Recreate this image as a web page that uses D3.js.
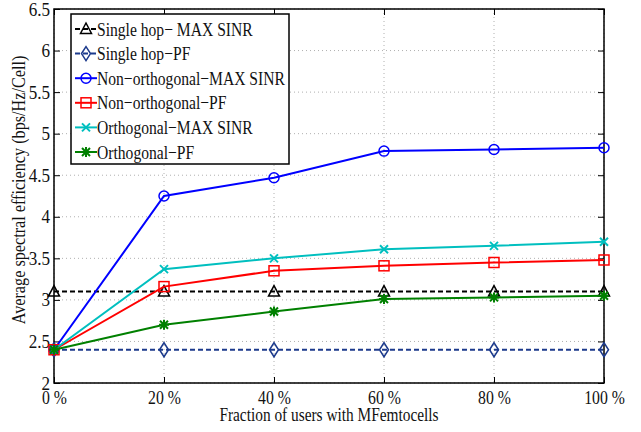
<!DOCTYPE html>
<html>
<head>
<meta charset="utf-8">
<script src="https://cdn.jsdelivr.net/npm/d3@7"></script>
<style>
  body { margin: 0; background: #fff; }
  svg text { font-family: "Liberation Serif", "Times New Roman", serif; fill: #111; }
</style>
</head>
<body>
<div id="chart"></div>
<script>
const fractions = [0, 20, 40, 60, 80, 100];
const yTicks = [2, 2.5, 3, 3.5, 4, 4.5, 5, 5.5, 6, 6.5];

const singleMax = [3.1, 3.1, 3.1, 3.1, 3.1, 3.1];
const singlePF = [2.4, 2.4, 2.4, 2.4, 2.4, 2.4];
const nonOrthMax = [2.4, 4.25, 4.47, 4.79, 4.81, 4.83];
const nonOrthPF = [2.4, 3.16, 3.35, 3.41, 3.45, 3.48];
const orthMax = [2.4, 3.37, 3.50, 3.61, 3.65, 3.70];
const orthPF = [2.4, 2.70, 2.86, 3.01, 3.03, 3.05];

const seriesNames = ["Single hop\u2212 MAX SINR", "Single hop\u2212PF", "Non\u2212orthogonal\u2212MAX SINR",
  "Non\u2212orthogonal\u2212PF", "Orthogonal\u2212MAX SINR", "Orthogonal\u2212PF"];

const series = [
  {name: seriesNames[0], values: singleMax, color: "#000000", dash: "5,3", marker: "triangle"},
  {name: seriesNames[1], values: singlePF, color: "#1c3a8c", dash: "5,3", marker: "diamond"},
  {name: seriesNames[2], values: nonOrthMax, color: "#0000ff", dash: null, marker: "circle"},
  {name: seriesNames[3], values: nonOrthPF, color: "#ff0000", dash: null, marker: "square"},
  {name: seriesNames[4], values: orthMax, color: "#00bfbf", dash: null, marker: "x"},
  {name: seriesNames[5], values: orthPF, color: "#008000", dash: null, marker: "star"}
];

const width = 641, height = 432;
const margin = {left: 54, right: 37, top: 9, bottom: 49};
const iw = width - margin.left - margin.right;
const ih = height - margin.top - margin.bottom;

// the figure's text is narrow, like a condensed Times
function condense(sel, k) {
  sel.each(function() {
    const len = this.getComputedTextLength();
    d3.select(this).attr("textLength", len * (k || 0.83)).attr("lengthAdjust", "spacingAndGlyphs");
  });
}

const svg = d3.select("#chart").append("svg")
  .attr("width", width).attr("height", height);

const x = d3.scaleLinear().domain([0, 100]).range([0, iw]);
const y = d3.scaleLinear().domain([2, 6.5]).range([ih, 0]);

const g = svg.append("g").attr("transform", "translate(" + margin.left + "," + margin.top + ")");

// grid
g.append("g").selectAll("line").data(fractions).enter().append("line")
  .attr("x1", d => x(d)).attr("x2", d => x(d)).attr("y1", 0).attr("y2", ih)
  .attr("stroke", "#b0b0b0").attr("stroke-dasharray", "1,3").attr("stroke-width", 1);
g.append("g").selectAll("line").data(yTicks).enter().append("line")
  .attr("x1", 0).attr("x2", iw).attr("y1", d => y(d)).attr("y2", d => y(d))
  .attr("stroke", "#b0b0b0").attr("stroke-dasharray", "1,3").attr("stroke-width", 1);

// axes
const xAxis = d3.axisBottom(x).tickValues(fractions).tickSize(-6).tickPadding(8)
  .tickFormat(d => d + " %");
const yAxis = d3.axisLeft(y).tickValues(yTicks).tickSize(-6).tickPadding(4)
  .tickFormat(d3.format("~g"));

const gx = g.append("g").attr("transform", "translate(0," + ih + ")").call(xAxis);
const gy = g.append("g").call(yAxis);
g.append("g").call(d3.axisTop(x).tickValues(fractions).tickSize(-6).tickFormat(""));
g.append("g").attr("transform", "translate(" + iw + ",0)")
  .call(d3.axisRight(y).tickValues(yTicks).tickSize(-6).tickFormat(""));

g.selectAll(".domain").remove();
g.selectAll(".tick line").attr("stroke", "#000").attr("stroke-width", 1);
gx.selectAll("text").attr("font-size", 19).attr("fill", "#111")
  .attr("font-family", "Liberation Serif").call(condense);
gy.selectAll("text").attr("font-size", 19).attr("fill", "#111")
  .attr("font-family", "Liberation Serif").call(condense, 0.9);

g.append("rect").attr("width", iw).attr("height", ih)
  .attr("fill", "none").attr("stroke", "#000").attr("stroke-width", 1.5);

// labels
svg.append("text").attr("x", 329).attr("y", 421)
  .attr("text-anchor", "middle").attr("font-size", 18.5)
  .text("Fraction of users with MFemtocells").call(condense);
svg.append("text").attr("transform", "translate(25,190) rotate(-90)")
  .attr("text-anchor", "middle").attr("font-size", 19.5)
  .text("Average spectral efficiency (bps/Hz/Cell)").call(condense);

// markers
function drawMarker(sel, type, color) {
  if (type === "triangle") {
    sel.append("path").attr("d", "M0,-6L5.5,4.5L-5.5,4.5Z")
      .attr("fill", "none").attr("stroke", color).attr("stroke-width", 1.5);
  } else if (type === "diamond") {
    sel.append("path").attr("d", "M0,-7L4.5,0L0,7L-4.5,0Z")
      .attr("fill", "none").attr("stroke", color).attr("stroke-width", 1.5);
  } else if (type === "circle") {
    sel.append("circle").attr("r", 5)
      .attr("fill", "none").attr("stroke", color).attr("stroke-width", 1.5);
  } else if (type === "square") {
    sel.append("rect").attr("x", -5).attr("y", -5).attr("width", 10).attr("height", 10)
      .attr("fill", "none").attr("stroke", color).attr("stroke-width", 1.5);
  } else if (type === "x") {
    sel.append("path").attr("d", "M-4,-4L4,4M-4,4L4,-4")
      .attr("stroke", color).attr("stroke-width", 2);
  } else if (type === "star") {
    sel.append("path").attr("d", "M-4,-4L4,4M-4,4L4,-4M0,-5L0,5M-5,0L5,0")
      .attr("stroke", color).attr("stroke-width", 2);
  }
}

const line = d3.line().x((d, i) => x(fractions[i])).y(d => y(d));

series.forEach(function(s) {
  g.append("path").datum(s.values)
    .attr("d", line).attr("fill", "none")
    .attr("stroke", s.color).attr("stroke-width", 2)
    .attr("stroke-dasharray", s.dash);
  s.values.forEach(function(v, i) {
    const m = g.append("g").attr("transform", "translate(" + x(fractions[i]) + "," + y(v) + ")");
    drawMarker(m, s.marker, s.color);
  });
});

// legend
const lg = svg.append("g").attr("transform", "translate(71,14)");
lg.append("rect").attr("width", 218).attr("height", 150)
  .attr("fill", "#fff").attr("stroke", "#000").attr("stroke-width", 1.5);
series.forEach(function(s, i) {
  const row = lg.append("g").attr("transform", "translate(0," + (15 + i * 24.6) + ")");
  row.append("line").attr("x1", 4).attr("x2", 26).attr("y1", 0).attr("y2", 0)
    .attr("stroke", s.color).attr("stroke-width", 2).attr("stroke-dasharray", s.dash);
  const m = row.append("g").attr("transform", "translate(15,0)");
  drawMarker(m, s.marker, s.color);
  row.append("text").attr("x", 26).attr("y", 6.5).attr("font-size", 19.5)
    .text(s.name).call(condense, 0.8);
});
</script>
</body>
</html>
